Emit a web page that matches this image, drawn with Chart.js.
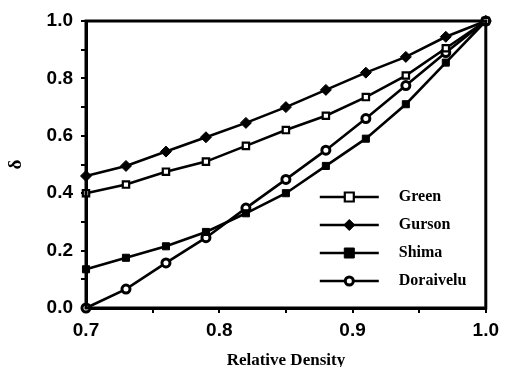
<!DOCTYPE html>
<html>
<head>
<meta charset="utf-8">
<script src="https://cdn.jsdelivr.net/npm/chart.js@4.4.1/dist/chart.umd.min.js"></script>
<style>
  html, body { margin: 0; padding: 0; background: #fff; }
  #wrap { width: 505px; height: 367px; }
</style>
</head>
<body>
<div id="wrap"><canvas id="densityChart" width="505" height="367"></canvas></div>
<script>
// relative density values (x)
var density = [0.70, 0.73, 0.76, 0.79, 0.82, 0.85, 0.88, 0.91, 0.94, 0.97, 1.00];

// delta values
var green     = [0.40, 0.43, 0.475, 0.51, 0.565, 0.62, 0.67, 0.735, 0.81, 0.905, 1.0];
var gurson    = [0.46, 0.495, 0.545, 0.595, 0.645, 0.70, 0.76, 0.82, 0.875, 0.945, 1.0];
var shima     = [0.135, 0.175, 0.215, 0.265, 0.33, 0.40, 0.495, 0.59, 0.71, 0.855, 1.0];
var doraivelu = [0.0, 0.066, 0.157, 0.245, 0.348, 0.448, 0.55, 0.66, 0.775, 0.89, 1.0];

var seriesNames = ['Green', 'Gurson', 'Shima', 'Doraivelu'];
var xLabels = [0.7, 0.8, 0.9, 1.0];
var yLabels = [0.0, 0.2, 0.4, 0.6, 0.8, 1.0];

function pts(ys) {
    var out = [];
    for (var i = 0; i < density.length; i++) {
        out.push({x: density[i], y: ys[i]});
    }
    return out;
}

function isLabel(list, v) {
    for (var i = 0; i < list.length; i++) {
        if (Math.abs(list[i] - v) < 1e-6) return true;
    }
    return false;
}

var styles = [
    {pointStyle: 'rect', radius: 4.5, fill: '#fff', bw: 2.2},
    {pointStyle: 'rectRot', radius: 5.5, fill: '#000', bw: 1},
    {pointStyle: 'rect', radius: 5, fill: '#000', bw: 1},
    {pointStyle: 'circle', radius: 4, fill: '#fff', bw: 3}
];
var values = [green, gurson, shima, doraivelu];

var datasets = [];
for (var s = 0; s < values.length; s++) {
    datasets.push({
        label: seriesNames[s],
        data: pts(values[s]),
        borderColor: '#000',
        borderWidth: 2.6,
        pointStyle: styles[s].pointStyle,
        pointRadius: styles[s].radius,
        pointBackgroundColor: styles[s].fill,
        pointBorderColor: '#000',
        pointBorderWidth: styles[s].bw,
        tension: 0,
        clip: false
    });
}

// frame around the plot area + legend inside it
var framePlugin = {
    id: 'frame',
    afterDatasetsDraw: function(chart) {
        var ctx = chart.ctx, a = chart.chartArea;
        ctx.save();
        ctx.strokeStyle = '#000';
        ctx.lineWidth = 3;
        ctx.strokeRect(a.left, a.top, a.right - a.left, a.bottom - a.top);

        var x0 = a.right - 166, lineLen = 59, y0 = a.bottom - 111, gap = 28;
        ctx.font = 'bold 16px "Liberation Serif", "Times New Roman", serif';
        ctx.textBaseline = 'middle';
        for (var i = 0; i < seriesNames.length; i++) {
            var y = y0 + i * gap, cx = x0 + lineLen / 2, st = styles[i];
            ctx.beginPath();
            ctx.strokeStyle = '#000';
            ctx.lineWidth = 2.6;
            ctx.moveTo(x0, y);
            ctx.lineTo(x0 + lineLen, y);
            ctx.stroke();
            ctx.fillStyle = st.fill;
            ctx.lineWidth = st.bw;
            ctx.beginPath();
            if (st.pointStyle === 'circle') {
                ctx.arc(cx, y, st.radius, 0, Math.PI * 2);
            } else if (st.pointStyle === 'rectRot') {
                ctx.moveTo(cx, y - st.radius);
                ctx.lineTo(cx + st.radius, y);
                ctx.lineTo(cx, y + st.radius);
                ctx.lineTo(cx - st.radius, y);
                ctx.closePath();
            } else {
                ctx.rect(cx - st.radius, y - st.radius, st.radius * 2, st.radius * 2);
            }
            ctx.fill();
            ctx.stroke();
            ctx.fillStyle = '#000';
            ctx.fillText(seriesNames[i], x0 + 79, y);
        }
        ctx.restore();
    }
};

var chart = new Chart(document.getElementById('densityChart'), {
    type: 'line',
    data: {datasets: datasets},
    options: {
        responsive: false,
        animation: false,
        layout: {padding: {top: 21, right: 16, left: 0, bottom: 0}},
        plugins: {legend: {display: false}, tooltip: {enabled: false}},
        scales: {
            x: {
                type: 'linear',
                min: 0.7,
                max: 1.0,
                afterFit: function(scale) { scale.height = 59; },
                border: {display: true, color: '#000', width: 3},
                grid: {drawOnChartArea: false, drawTicks: true, tickLength: 5, color: '#000', lineWidth: 2},
                ticks: {
                    stepSize: 0.05,
                    padding: 6,
                    color: '#000',
                    font: {family: '"Liberation Sans", Arial, sans-serif', size: 19, weight: 'bold'},
                    callback: function(v) { return isLabel(xLabels, v) ? v.toFixed(1) : ''; }
                },
                title: {
                    display: true,
                    text: 'Relative Density',
                    color: '#000',
                    padding: {top: 4, bottom: 0},
                    font: {family: '"Liberation Serif", "Times New Roman", serif', size: 17, weight: 'bold', lineHeight: 0.8}
                }
            },
            y: {
                min: 0,
                max: 1.0,
                afterFit: function(scale) { scale.width = 86; },
                border: {display: true, color: '#000', width: 3},
                grid: {drawOnChartArea: false, drawTicks: true, tickLength: 5, color: '#000', lineWidth: 2},
                ticks: {
                    stepSize: 0.1,
                    padding: 8,
                    color: '#000',
                    font: {family: '"Liberation Sans", Arial, sans-serif', size: 19, weight: 'bold'},
                    callback: function(v) { return isLabel(yLabels, v) ? v.toFixed(1) : ''; }
                },
                title: {
                    display: true,
                    text: 'δ',
                    color: '#000',
                    padding: {top: 5, bottom: 0},
                    font: {family: '"Liberation Serif", "Times New Roman", serif', size: 19, weight: 'bold'}
                }
            }
        }
    },
    plugins: [framePlugin]
});
</script>
</body>
</html>
